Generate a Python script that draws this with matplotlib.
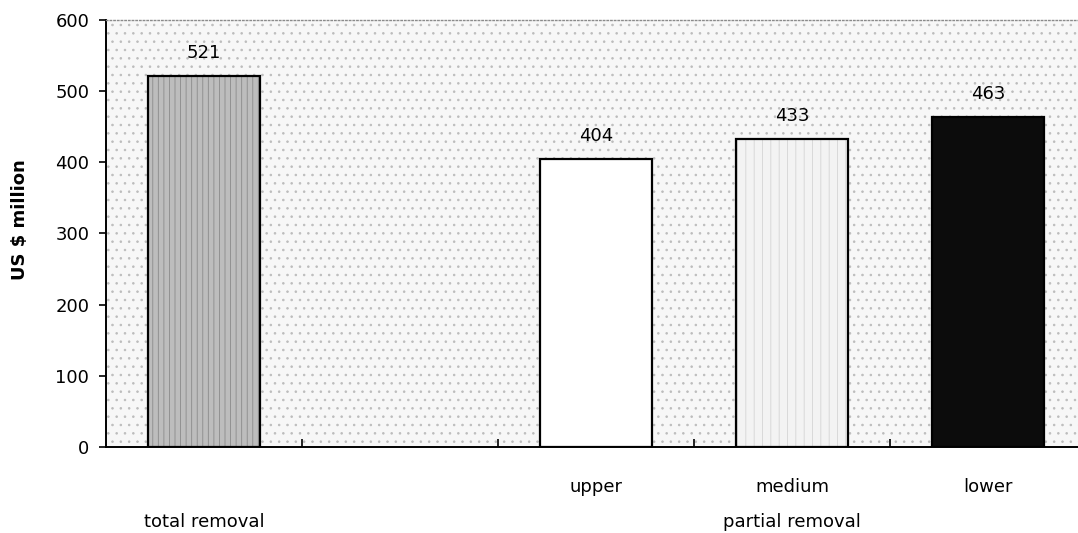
import numpy as np
import matplotlib.pyplot as plt
from matplotlib.patches import Rectangle

# Removal cost by scenario (US $ million)
scenarios = ['total removal', 'upper', 'medium', 'lower']
sub_labels = ['', 'upper', 'medium', 'lower']
group_labels = ['total removal', 'partial removal']
costs = [521, 404, 433, 463]
slot_pos = [0, 2, 3, 4]        # slot 1 left empty between the groups
group_pos = [0, 3]

plt.rcParams['font.family'] = ['DejaVu Sans']
plt.rcParams['hatch.linewidth'] = 0.6

fig = plt.figure(figsize=(10.78, 5.33), dpi=100)
ax = fig.add_axes([0.0983, 0.1614, 0.909, 0.8011])

# stippled plot background
ax.set_facecolor('white')
bg = Rectangle((0, 0), 1, 1, transform=ax.transAxes, facecolor='#f7f7f7',
               edgecolor='#bcbcbc', hatch='..', linewidth=0, zorder=0)
ax.add_patch(bg)

fills = ['#bdbdbd', 'white', '#f3f3f3', '#0c0c0c']
hatches = ['|||', None, '||', None]
hatch_cols = ['#8a8a8a', 'white', '#d4d4d4', '#0c0c0c']
width = 0.575

for x, v, fc, h, hc in zip(slot_pos, costs, fills, hatches, hatch_cols):
    # textured fill first, black outline on top
    ax.bar(x, v, width=width, color=fc, hatch=h, edgecolor=hc, linewidth=0, zorder=2)
    ax.bar(x, v, width=width, fill=False, edgecolor='black', linewidth=1.6, zorder=3)
    ax.text(x, v + 20, str(v), ha='center', va='bottom', fontsize=13, zorder=4)

ax.set_xlim(-0.5, 4.5)
ax.set_ylim(0, 600)
ax.set_yticks(np.arange(0, 601, 100))
ax.tick_params(axis='y', direction='out', length=5, width=1.2, labelsize=13, pad=7)

# category ticks sit between slots and point into the plot
ax.set_xticks([0.5, 1.5, 2.5, 3.5])
ax.set_xticklabels([])
ax.tick_params(axis='x', direction='in', length=6, width=1.2)

xt = ax.get_xaxis_transform()
for x, lab in zip(slot_pos, sub_labels):
    if lab:
        ax.text(x, -0.094, lab, transform=xt, ha='center', va='center', fontsize=13)
for x, lab in zip(group_pos, group_labels):
    ax.text(x, -0.176, lab, transform=xt, ha='center', va='center', fontsize=13)

ax.set_ylabel('US $ million', fontsize=13, fontweight='bold')
ax.yaxis.set_label_coords(-0.079, 0.532)

ax.spines['left'].set_linewidth(1.4)
ax.spines['bottom'].set_linewidth(1.4)
ax.spines['right'].set_visible(False)
ax.spines['top'].set_color('#8a8a8a')
ax.spines['top'].set_linestyle(':')
ax.spines['top'].set_linewidth(1.0)

fig.savefig('out.png', dpi=100, facecolor='white')
